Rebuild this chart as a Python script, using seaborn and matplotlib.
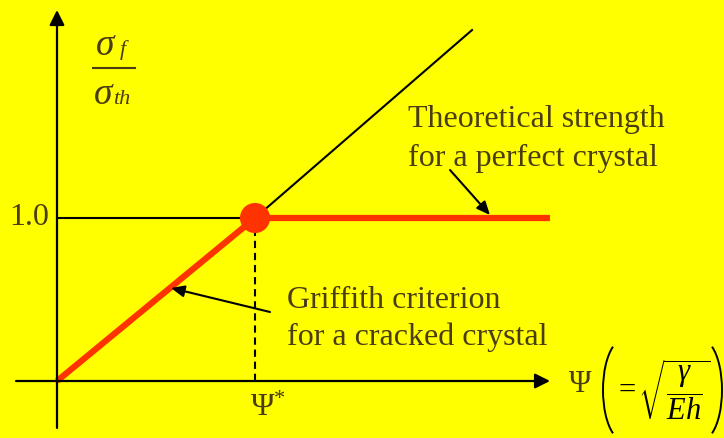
import matplotlib
matplotlib.use("Agg")
import matplotlib.pyplot as plt
from matplotlib.patches import Arc
from matplotlib.transforms import IdentityTransform
import seaborn as sns

# ---- data -------------------------------------------------------------
psi_star = 1.0          # critical value Ψ*
strength_ratio = 1.0    # σ_f / σ_th at the theoretical limit
psi_end = 2.49          # right end of the plotted range

# Griffith criterion (cracked crystal): rises linearly up to Ψ*
griffith_x = [0.0, psi_star]
griffith_y = [0.0, strength_ratio]

# Theoretical strength (perfect crystal): flat beyond Ψ*
theory_x = [psi_star, psi_end]
theory_y = [strength_ratio, strength_ratio]

# Continuation of the linear law past Ψ* (thin black line)
linear_x = [psi_star, 2.096]
linear_y = [strength_ratio, 2.153]

# Reference level 1.0 drawn from the axis to the kink
level_x = [0.0, psi_star]
level_y = [strength_ratio, strength_ratio]

ytick_label = "1.0"
xtick_label = r"$\Psi^{*}$"

# ---- style ------------------------------------------------------------
YELLOW = "#FFFF00"
RED = "#FF3300"
TEXT = "#4a3d12"
plt.rcParams["mathtext.fontset"] = "custom"
plt.rcParams["mathtext.rm"] = "Liberation Serif"
plt.rcParams["mathtext.it"] = "Liberation Serif:italic"
plt.rcParams["mathtext.bf"] = "Liberation Serif:bold"
SERIF = "Liberation Serif"

W, H = 724, 438
fig = plt.figure(figsize=(W / 100, H / 100), dpi=100, facecolor=YELLOW)
ax = fig.add_axes([0, 0, 1, 1])
ax.set_facecolor(YELLOW)
ax.set_xlim(-57 / 198, (W - 57) / 198)
ax.set_ylim((381 - H) / 163, 381 / 163)
ax.axis("off")


def fx(px):
    return px / W


def fy(py):
    return 1 - py / H


# axes with arrow heads
arrow_kw = dict(arrowstyle="-|>,head_length=0.9,head_width=0.45", lw=1.6,
                color="black", shrinkA=0, shrinkB=0)
ax.annotate("", xy=(2.49, 0), xytext=(-0.207, 0), arrowprops=arrow_kw)
ax.annotate("", xy=(0, 2.276), xytext=(0, -0.288), arrowprops=arrow_kw)

# thin black construction lines
sns.lineplot(x=linear_x, y=linear_y, ax=ax, color="black", linewidth=1.5,
             estimator=None, sort=False)
sns.lineplot(x=level_x, y=level_y, ax=ax, color="black", linewidth=1.5,
             estimator=None, sort=False)
ax.plot([psi_star, psi_star], [0, strength_ratio], color="black",
        linewidth=1.5, linestyle=(0, (3.5, 2.3)))

# strength curves
sns.lineplot(x=griffith_x, y=griffith_y, ax=ax, color=RED, linewidth=4.5,
             estimator=None, sort=False, solid_capstyle="butt")
sns.lineplot(x=theory_x, y=theory_y, ax=ax, color=RED, linewidth=4.5,
             estimator=None, sort=False, solid_capstyle="butt")
sns.scatterplot(x=[psi_star], y=[strength_ratio], ax=ax, color=RED, s=470,
                edgecolor="none", zorder=5)

# tick labels
fig.text(fx(49), fy(217), ytick_label, ha="right", va="center",
         fontsize=23, color=TEXT, family=SERIF)
fig.text(fx(268), fy(408), xtick_label, ha="center", va="center",
         fontsize=23, color=TEXT)

# y label: σ_f over σ_th
fig.text(fx(106), fy(45), r"$\sigma$", ha="center", va="center",
         fontsize=27, color=TEXT)
fig.text(fx(123), fy(50), "f", ha="center", va="center", fontsize=16,
         style="italic", color=TEXT, family=SERIF)
fig.text(fx(104), fy(94), r"$\sigma$", ha="center", va="center",
         fontsize=27, color=TEXT)
fig.text(fx(122), fy(100), "th", ha="center", va="center", fontsize=16,
         style="italic", color=TEXT, family=SERIF)
fig.add_artist(plt.Line2D([fx(93), fx(135)], [fy(68), fy(68)],
                          color=TEXT, linewidth=1.5))

# x label: Ψ ( = sqrt(γ / Eh) )
fig.text(fx(580), fy(384), "Ψ", ha="center", va="center", fontsize=22,
         color=TEXT, family=SERIF)
fig.text(fx(627), fy(391), "=", ha="center", va="center", fontsize=22,
         color="black", family=SERIF)
fig.text(fx(674), fy(390), r"$\sqrt{\dfrac{\gamma}{Eh}}$", ha="center",
         va="center", fontsize=22, color="black")
# tall round brackets around the expression (pixel coordinates)
for cx, t1, t2 in [(623, 103, 257), (702, -77, 77)]:
    fig.add_artist(Arc((cx, H - 390), 40, 100, theta1=t1, theta2=t2,
                       transform=IdentityTransform(), color="black",
                       linewidth=1.4))

# annotations
note_kw = dict(arrowstyle="-|>,head_length=0.8,head_width=0.35", lw=1.5,
               color="black", shrinkA=0, shrinkB=0)
fig.text(fx(408), fy(120), "Theoretical strength", ha="left", va="center",
         fontsize=23, color=TEXT, family=SERIF)
fig.text(fx(408), fy(158), "for a perfect crystal", ha="left", va="center",
         fontsize=23, color=TEXT, family=SERIF)
ax.annotate("", xy=(fx(490), fy(215)), xytext=(fx(450), fy(170)),
            xycoords="figure fraction", textcoords="figure fraction",
            arrowprops=note_kw)

fig.text(fx(287), fy(300), "Griffith criterion", ha="left", va="center",
         fontsize=23, color=TEXT, family=SERIF)
fig.text(fx(287), fy(337), "for a cracked crystal", ha="left", va="center",
         fontsize=23, color=TEXT, family=SERIF)
ax.annotate("", xy=(fx(171), fy(288)), xytext=(fx(270), fy(312)),
            xycoords="figure fraction", textcoords="figure fraction",
            arrowprops=note_kw)

fig.savefig("out.png", dpi=100, facecolor=YELLOW)
